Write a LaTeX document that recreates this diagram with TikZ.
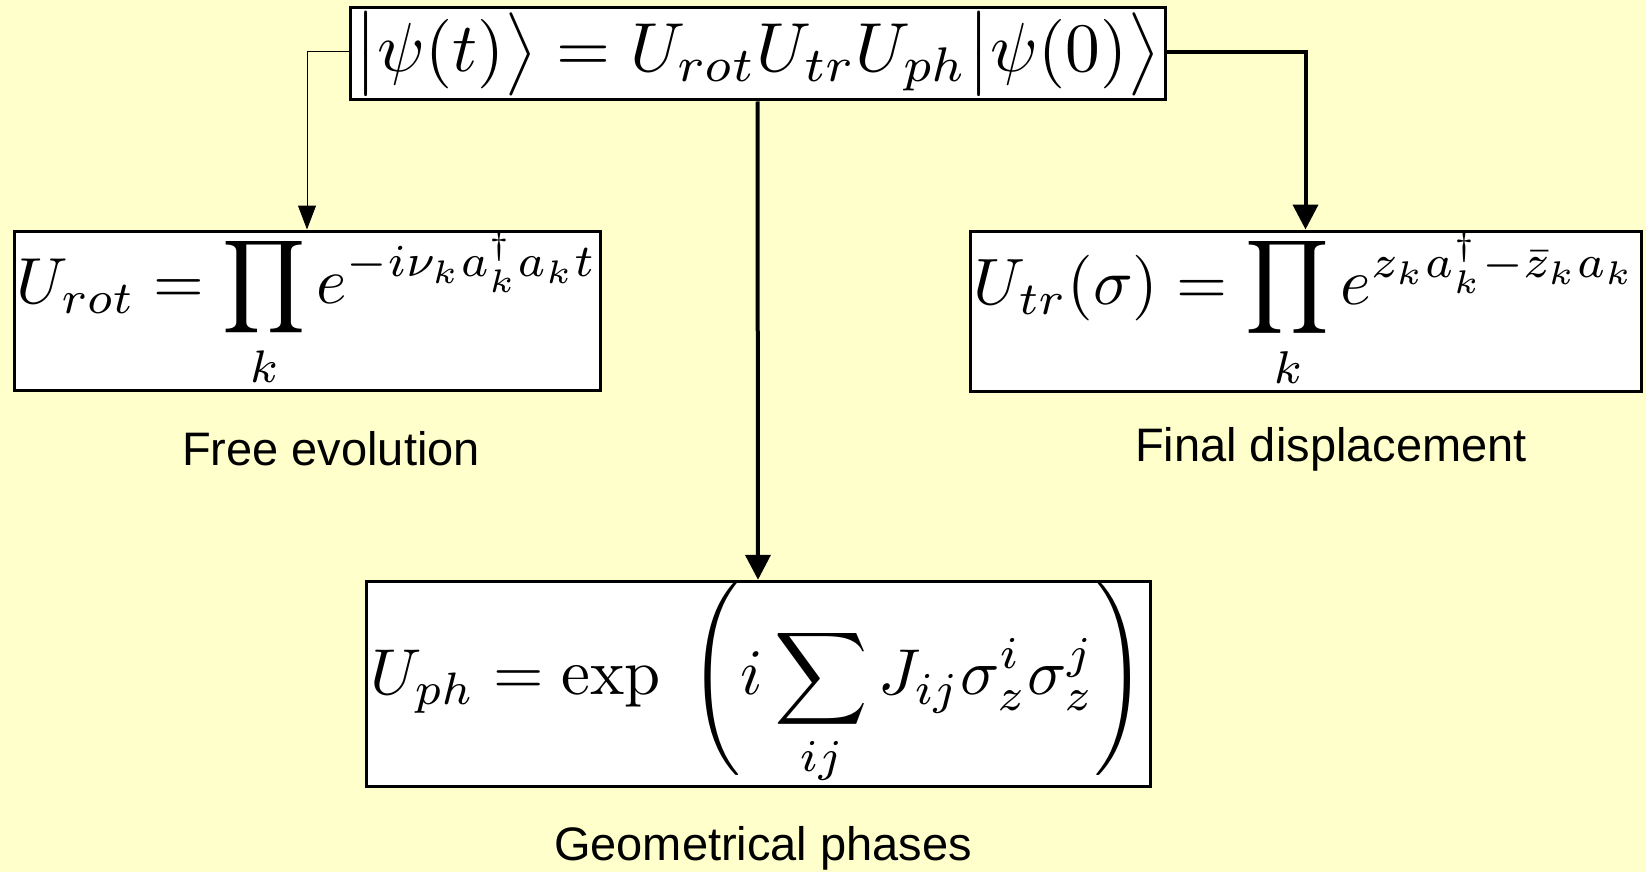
\documentclass[tikz,border=0pt]{standalone}
\usepackage{fontspec}
\usepackage{amsmath}
\usepackage{graphicx}
\usetikzlibrary{arrows.meta}
\newfontfamily\labelfont{Liberation Sans}
\definecolor{bgyellow}{RGB}{255,255,204}
\tikzset{
  eqbox/.style={draw=black, line width=3pt, fill=white, inner sep=0pt, anchor=center},
  lab/.style={font=\labelfont\fontsize{47}{56}\selectfont, inner sep=0pt, anchor=center},
  thickconn/.style={line width=4pt, -{Triangle[length=25pt,width=25pt]}},
  thinconn/.style={line width=1pt, -{Triangle[length=24pt,width=18pt]}}
}
\begin{document}
\begin{tikzpicture}[x=1pt,y=-1pt]
\fill[bgyellow] (0,0) rectangle (1646,872);
\useasboundingbox (0,0) rectangle (1646,872);

\node[eqbox, minimum width=815pt, minimum height=92pt] (top) at (757.5,54)
  {\resizebox{805pt}{!}{$\displaystyle \bigl|\psi(t)\bigr\rangle = U_{rot}U_{tr}U_{ph}\bigl|\psi(0)\bigr\rangle$}};

\node[eqbox, minimum width=586pt, minimum height=159pt] (left) at (307,310.5)
  {\resizebox{580pt}{!}{$\displaystyle U_{rot} = \prod_k e^{-i\nu_k a_k^\dagger a_k t}$}};

\node[eqbox, minimum width=671pt, minimum height=160pt] (right) at (1305.5,311)
  {\resizebox{663pt}{!}{$\displaystyle U_{tr}(\sigma) = \prod_k e^{z_k a_k^\dagger - \bar z_k a_k}$}};

\node[eqbox, minimum width=784pt, minimum height=202pt] (bottom) at (758,684)
  {\resizebox{775pt}{!}{$\displaystyle U_{ph} = \exp\;\,\Biggl( i \sum_{ij} J_{ij}\sigma_z^i\sigma_z^j \Biggr)$}};

\node[lab] (lfree) at (331,449) {Free evolution};
\node[lab] (lfinal) at (1331,449) {Final displacement};
\node[lab] (lgeo) at (763,848) {Geometrical phases};

\coordinate (tl) at ([yshift=2pt]top.west);
\coordinate (tr) at ([yshift=2pt]top.east);
\draw[thinconn] (tl) -| (left.north);
\draw[thickconn] (tr) -| (right.north);
\draw[thickconn] (top.south) -- (bottom.north);
\end{tikzpicture}
\end{document}
